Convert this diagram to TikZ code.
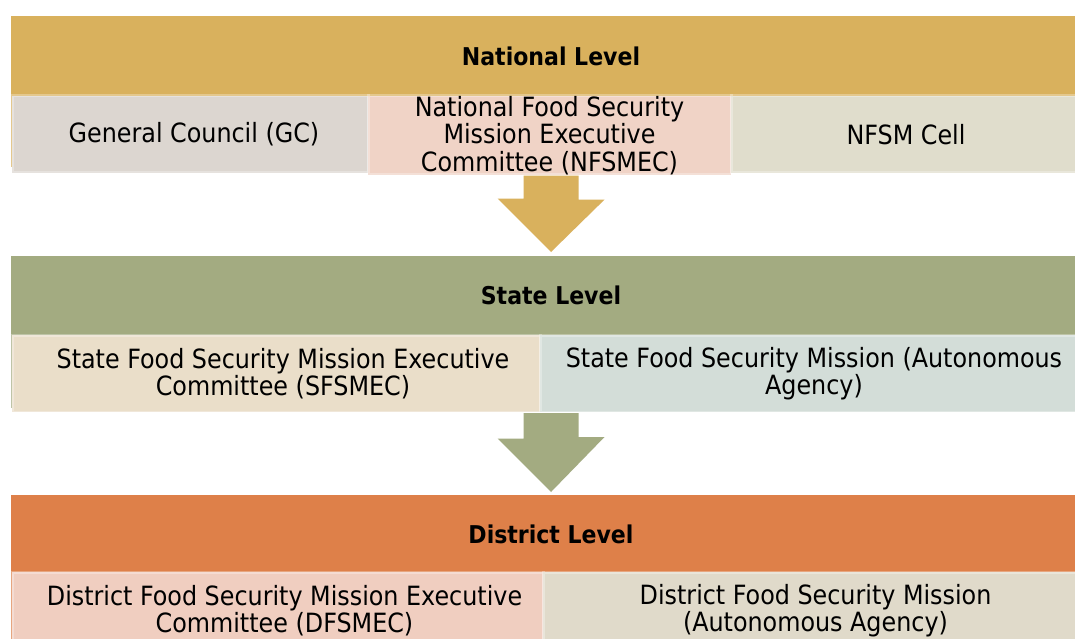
\documentclass[tikz,border=0pt]{standalone}
\usepackage{fontspec}
\setmainfont{DejaVu Sans Condensed}
\usetikzlibrary{calc}
\definecolor{natgold}{HTML}{D9B15D}
\definecolor{stgreen}{HTML}{A3AB81}
\definecolor{distorange}{HTML}{DE8049}
\definecolor{gcfill}{HTML}{DCD6D0}
\definecolor{nfsmecfill}{HTML}{F0D3C6}
\definecolor{cellfill}{HTML}{E0DDCC}
\definecolor{sfsmecfill}{HTML}{EADEC9}
\definecolor{sfsmfill}{HTML}{D3DDD8}
\definecolor{dfsmecfill}{HTML}{F0CEC0}
\definecolor{dfsmfill}{HTML}{E0DACA}
\begin{document}
\begin{tikzpicture}[x=1pt, y=-1pt, font=\fontsize{26.5}{27.5}\selectfont]
    \tikzstyle{band_style} = [rectangle, anchor=north west, inner sep=0, outer sep=0, minimum width=1064pt]
    \tikzstyle{head_style} = [font=\fontsize{24.5}{27.5}\selectfont\bfseries]
    \tikzstyle{box_style} = [rectangle, anchor=north west, inner sep=0, outer sep=0, align=center, minimum height=77pt, draw=white, draw opacity=0.3, line width=3pt]
    \useasboundingbox (0,0) rectangle (1075,639);
    \fill[white] (0,0) rectangle (1075,639);

    \node[band_style, fill=natgold, minimum height=151pt] (national) at (11,16) {};
    \node[head_style] (natlabel) at (551,56) {National Level};
    \node[box_style, fill=gcfill, minimum width=356pt] (gc) at (12,96) {\hspace*{8pt}General Council (GC)};
    \node[box_style, fill=nfsmecfill, minimum width=363pt] (nfsmec) at (368,96) {National Food Security\\Mission Executive\\Committee (NFSMEC)};
    \node[box_style, fill=cellfill, minimum width=350pt] (cell) at (731,96) {NFSM Cell};

    \node[band_style, fill=stgreen, minimum height=152pt] (state) at (11,256) {};
    \node[head_style] (stlabel) at (551,295) {State Level};
    \node[box_style, fill=sfsmecfill, minimum width=528pt] (sfsmec) at (12,335) {\hspace*{14pt}State Food Security Mission Executive\\\hspace*{14pt}Committee (SFSMEC)};
    \node[box_style, fill=sfsmfill, minimum width=548pt] (sfsm) at (540,335) {State Food Security Mission (Autonomous\\Agency)};

    \node[band_style, fill=distorange, minimum height=160pt] (district) at (11,495) {};
    \node[head_style] (distlabel) at (551,534) {District Level};
    \node[box_style, fill=dfsmecfill, minimum width=531pt] (dfsmec) at (12,572) {\hspace*{14pt}District Food Security Mission Executive\\\hspace*{14pt}Committee (DFSMEC)};
    \node[box_style, fill=dfsmfill, minimum width=545pt] (dfsm) at (543,572) {District Food Security Mission\\(Autonomous Agency)};

    \fill[natgold] ($(natlabel|-nfsmec.south)+(-27.5,1)$) -- ++(55,0) -- ++(0,24) -- ++(26,0)
        -- ($(natlabel|-state.north)+(0,-4)$) -- ++(-53.5,-53.5) -- ++(26,0) -- cycle;
    \fill[stgreen] ($(stlabel|-sfsm.south)+(-27.5,1)$) -- ++(55,0) -- ++(0,24) -- ++(26,0)
        -- ($(stlabel|-district.north)+(0,-3)$) -- ++(-53.5,-53.5) -- ++(26,0) -- cycle;
\end{tikzpicture}
\end{document}
